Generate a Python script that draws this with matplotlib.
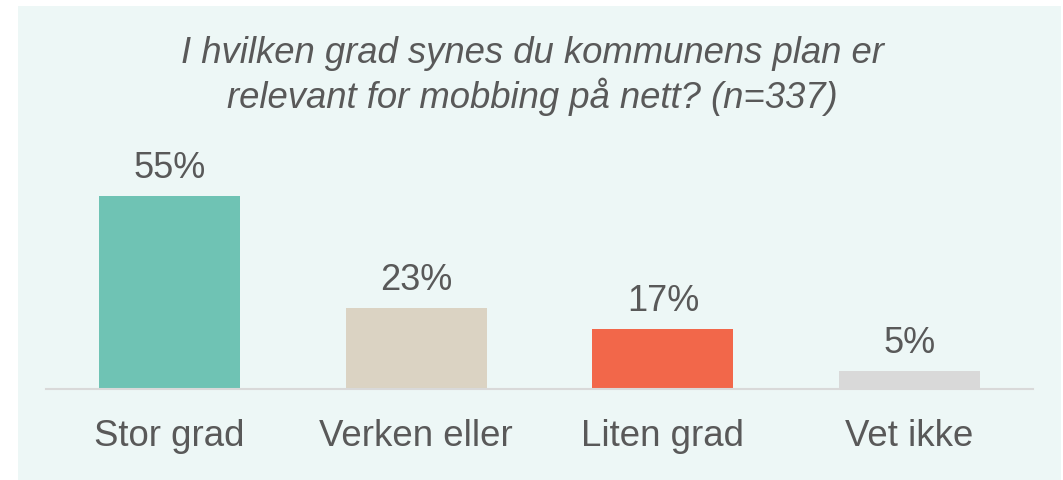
import matplotlib
matplotlib.use("Agg")
import matplotlib.pyplot as plt
from matplotlib.patches import Rectangle

categories = ["Stor grad", "Verken eller", "Liten grad", "Vet ikke"]
values = [55, 23, 17, 5]
labels = ["55%", "23%", "17%", "5%"]
colors = ["#6FC3B4", "#DBD3C3", "#F2674A", "#D9D9D9"]
title = "I hvilken grad synes du kommunens plan er\nrelevant for mobbing på nett? (n=337)"

plt.rcParams['font.family'] = ['Liberation Sans', 'DejaVu Sans']
W, H = 1063, 481
fig = plt.figure(figsize=(W/100, H/100), dpi=100)
fig.patch.set_facecolor("white")
bg = Rectangle((18/W, 0), (1061-18)/W, (481-7)/H, transform=fig.transFigure,
               facecolor="#EDF7F6", edgecolor="none", zorder=-10)
fig.patches.append(bg)

px_per = (390-197)/55.0
ax = fig.add_axes([46/W, (H-390)/H, (1033-46)/W, 390/H])
ax.set_zorder(1)
ax.set_facecolor("none")
x = list(range(len(categories)))
ax.bar(x, values, width=0.571, color=colors, zorder=2)
ax.set_xlim(-0.5, len(categories)-0.5)
ax.set_ylim(0, 390/px_per)
for i, (v, l) in enumerate(zip(values, labels)):
    ax.annotate(l, (i, v), xytext=(0, 13.7), textcoords="offset points",
                ha="center", va="baseline", fontsize=26, color="#595959")
ax.set_xticks(x)
ax.set_xticklabels(categories, fontsize=26.4, color="#595959")
ax.tick_params(axis="x", length=0, pad=21)
ax.set_yticks([])
for s in ["top", "right", "left"]:
    ax.spines[s].set_visible(False)
ax.spines["bottom"].set_color("#D9D9D9")
ax.spines["bottom"].set_linewidth(1.5)

fig.text(532/W, 1-76/H, title, ha="center", va="center", fontsize=26.3, style="italic",
         color="#595959", linespacing=1.2)

fig.savefig("out.png", dpi=100, facecolor=fig.get_facecolor())
